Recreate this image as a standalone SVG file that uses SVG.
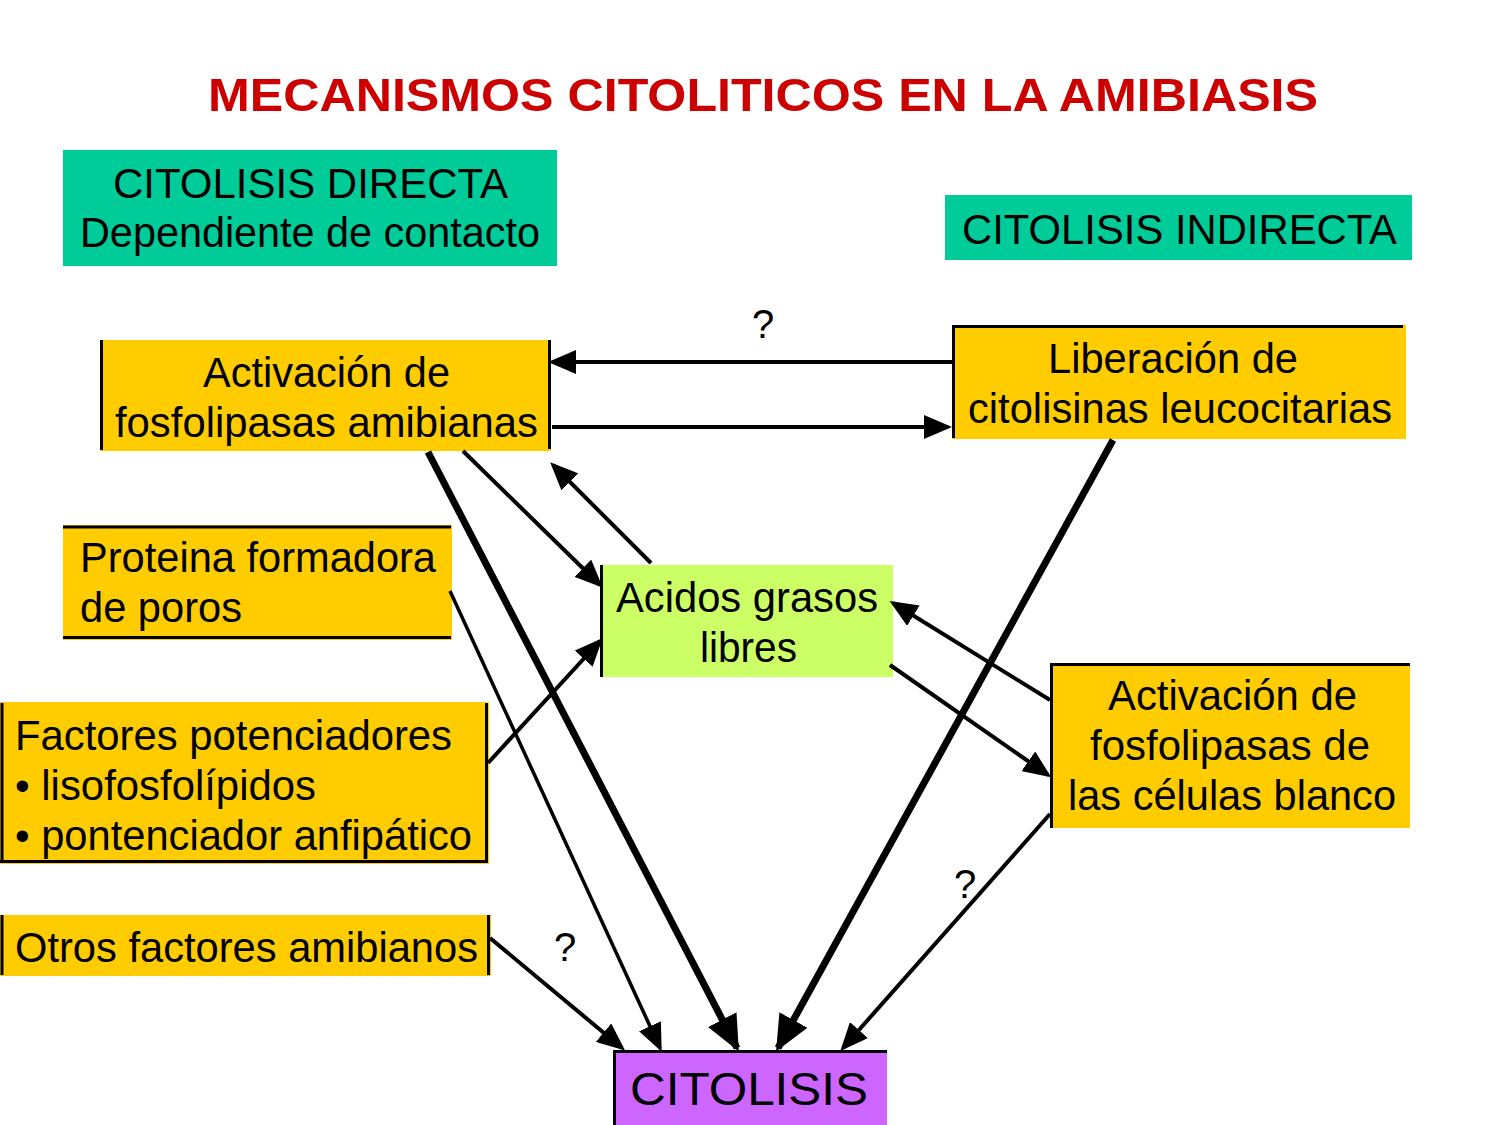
<svg xmlns="http://www.w3.org/2000/svg" width="1500" height="1125" viewBox="0 0 1500 1125">
<style>
text { font-family: "Liberation Sans", Arial, sans-serif; font-size: 42px; fill: #000; }
.title { font-weight: bold; font-size: 46px; fill: #CC0000; }
.yel { fill: #FFCC00; }
.grn { fill: #00CC99; }
.lime { fill: #CCFF66; }
.pur { fill: #CC66FF; }
.bd { stroke: #000; stroke-width: 3; fill: none; }
.c { fill: none; stroke: #000; stroke-width: 4; }
.thin { stroke-width: 3.5; }
.thick { stroke-width: 7; }
.q { font-size: 40px; }
</style>
<defs>
<marker id="ah" markerUnits="userSpaceOnUse" markerWidth="28" markerHeight="24" refX="24" refY="12" orient="auto">
<path d="M0,0 L28,12 L0,24 z" fill="#000"/>
</marker>
<marker id="ahBig" markerUnits="userSpaceOnUse" markerWidth="36" markerHeight="32" refX="32" refY="16" orient="auto">
<path d="M0,0 L36,16 L0,32 z" fill="#000"/>
</marker>
</defs>
<rect width="1500" height="1125" fill="#fff"/>

<text class="title" x="208" y="111" textLength="1110" lengthAdjust="spacingAndGlyphs">MECANISMOS CITOLITICOS EN LA AMIBIASIS</text>

<g id="citolisis-directa">
<rect class="grn" x="63" y="150" width="494" height="116"/>
<text x="113" y="198" textLength="395" lengthAdjust="spacingAndGlyphs">CITOLISIS DIRECTA</text>
<text x="80" y="247" textLength="460" lengthAdjust="spacingAndGlyphs">Dependiente de contacto</text>
</g>

<g id="citolisis-indirecta">
<rect class="grn" x="945" y="195" width="467" height="65"/>
<text x="962" y="244" textLength="435" lengthAdjust="spacingAndGlyphs">CITOLISIS INDIRECTA</text>
</g>

<g id="fosfolipasas-amibianas">
<rect class="yel" x="100" y="340" width="451" height="111"/>
<path class="bd" d="M101.5,340 V450 M549.5,340 V449"/>
<text x="203" y="387" textLength="247" lengthAdjust="spacingAndGlyphs">Activación de</text>
<text x="115" y="437" textLength="423" lengthAdjust="spacingAndGlyphs">fosfolipasas amibianas</text>
</g>

<g id="liberacion">
<rect class="yel" x="952" y="325" width="454" height="114"/>
<path class="bd" d="M952,326.5 H1403 M953.5,325 V438"/>
<text x="1048" y="373" textLength="250" lengthAdjust="spacingAndGlyphs">Liberación de</text>
<text x="968" y="423" textLength="424" lengthAdjust="spacingAndGlyphs">citolisinas leucocitarias</text>
</g>

<g id="proteina">
<rect class="yel" x="63" y="525" width="389" height="115"/>
<path class="bd" d="M63,527 H451 M63,637.5 H451"/>
<text x="80" y="572" textLength="356" lengthAdjust="spacingAndGlyphs">Proteina formadora</text>
<text x="80" y="622" textLength="162" lengthAdjust="spacingAndGlyphs">de poros</text>
</g>

<g id="factores">
<rect class="yel" x="0" y="702" width="489" height="162"/>
<path class="bd" d="M2,703 V862 M486.5,703 V862 M0,861.5 H488"/>
<text x="15" y="750" textLength="437" lengthAdjust="spacingAndGlyphs">Factores potenciadores</text>
<text x="15" y="800" textLength="301" lengthAdjust="spacingAndGlyphs">• lisofosfolípidos</text>
<text x="15" y="850" textLength="457" lengthAdjust="spacingAndGlyphs">• pontenciador anfipático</text>
</g>

<g id="otros">
<rect class="yel" x="0" y="915" width="491" height="61"/>
<path class="bd" d="M2,915 V975 M488.5,915 V975"/>
<text x="15" y="962" textLength="463" lengthAdjust="spacingAndGlyphs">Otros factores amibianos</text>
</g>

<g id="acidos">
<rect class="lime" x="600" y="565" width="293" height="112"/>
<path class="bd" d="M601.5,565 V677"/>
<text x="616" y="612" textLength="262" lengthAdjust="spacingAndGlyphs">Acidos grasos</text>
<text x="700" y="662" textLength="97" lengthAdjust="spacingAndGlyphs">libres</text>
</g>

<g id="fosfolipasas-blanco">
<rect class="yel" x="1050" y="663" width="360" height="165"/>
<path class="bd" d="M1050,664.5 H1410 M1051.5,663 V828"/>
<text x="1108" y="710" textLength="249" lengthAdjust="spacingAndGlyphs">Activación de</text>
<text x="1090" y="760" textLength="280" lengthAdjust="spacingAndGlyphs">fosfolipasas de</text>
<text x="1068" y="810" textLength="328" lengthAdjust="spacingAndGlyphs">las células blanco</text>
</g>

<g id="citolisis">
<rect class="pur" x="613" y="1050" width="274" height="75"/>
<path class="bd" d="M613,1051.5 H887 M614.5,1050 V1125"/>
<text x="630" y="1105" textLength="238" lengthAdjust="spacingAndGlyphs" style="font-size:46px">CITOLISIS</text>
</g>

<g id="connectors">
<line class="c" x1="952" y1="362" x2="552" y2="362" marker-end="url(#ah)"/>
<line class="c" x1="552" y1="427" x2="948" y2="427" marker-end="url(#ah)"/>
<line class="c" x1="463" y1="451" x2="600" y2="585" marker-end="url(#ah)"/>
<line class="c" x1="651" y1="563" x2="553" y2="465" marker-end="url(#ah)"/>
<line class="c thick" x1="428" y1="452" x2="737" y2="1048" marker-end="url(#ahBig)"/>
<line class="c thin" x1="450" y1="591" x2="660" y2="1048" marker-end="url(#ah)"/>
<line class="c" x1="488" y1="763" x2="600" y2="641" marker-end="url(#ah)"/>
<line class="c" x1="490" y1="938" x2="622" y2="1048" marker-end="url(#ah)"/>
<line class="c thick" x1="1113" y1="440" x2="778" y2="1048" marker-end="url(#ahBig)"/>
<line class="c" x1="1050" y1="700" x2="893" y2="603" marker-end="url(#ah)"/>
<line class="c" x1="890" y1="665" x2="1048" y2="775" marker-end="url(#ah)"/>
<line class="c" x1="1050" y1="814" x2="843" y2="1048" marker-end="url(#ah)"/>
<text class="q" x="763" y="338" text-anchor="middle">?</text>
<text class="q" x="565" y="961" text-anchor="middle">?</text>
<text class="q" x="965" y="898" text-anchor="middle">?</text>
</g>
</svg>
